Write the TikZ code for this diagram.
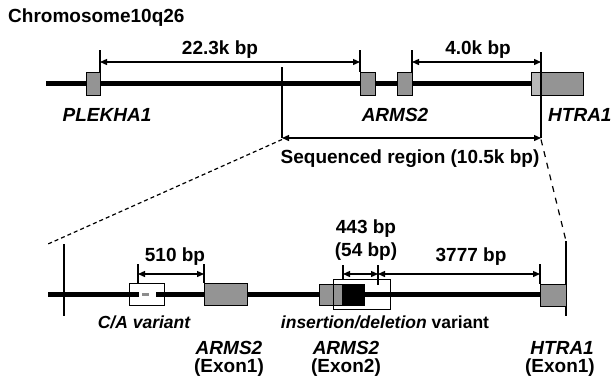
\documentclass[tikz,border=0pt]{standalone}
\usepackage{fontspec}
\setmainfont{Liberation Sans}
\usetikzlibrary{arrows.meta}
\begin{document}
\begin{tikzpicture}[x=1pt,y=-1pt,
  lbl/.style={font=\fontsize{19pt}{22pt}\selectfont\bfseries, inner sep=0pt, anchor=base},
  gene/.style={lbl, font=\fontsize{19pt}{22pt}\selectfont\bfseries\itshape},
  varlbl/.style={lbl, font=\fontsize{17.5pt}{20pt}\selectfont\bfseries},
  exon/.style={draw=black, line width=0.9pt, fill=black!42, inner sep=0pt, outer sep=0pt},
  lightexon/.style={exon, fill=black!28},
  openbox/.style={draw=black, line width=1pt, inner sep=0pt, outer sep=0pt},
  tickline/.style={line width=1.2pt},
  dimarrow/.style={line width=1.3pt, {Triangle[length=7pt,width=6pt]}-{Triangle[length=7pt,width=6pt]}},
  chrom/.style={line width=4.5pt},
  zoomline/.style={line width=1.2pt, dash pattern=on 4pt off 3pt},
  zoomlineb/.style={line width=1.2pt, dash pattern=on 6pt off 6pt}
]
\useasboundingbox (0,0) rectangle (612,381);

% ---------- title ----------
\node[lbl, anchor=base west] (title) at (8,22.5) {Chromosome10q26};

% ---------- upper chromosome ----------
\coordinate (tl) at (46,83.5);
\coordinate (tr) at (531,83.5);
\draw[chrom] (tl) -- (tr);

\node[exon, minimum width=14pt, minimum height=23pt] (plek) at (93,83.5) {};
\node[exon, minimum width=15pt, minimum height=23pt] (armsa) at (367.5,83.5) {};
\node[exon, minimum width=15pt, minimum height=23pt] (armsb) at (404.5,83.5) {};
\node[lightexon, minimum width=10pt, minimum height=23pt] (htral) at (536,84) {};
\node[exon, minimum width=42pt, minimum height=23pt] (htrad) at (562,84) {};

% ticks
\coordinate (k1) at (100,50);
\coordinate (k2) at (360,50);
\coordinate (k3) at (412,50);
\coordinate (k4t) at (541,52);
\coordinate (k4b) at (541,138);
\coordinate (k5t) at (282,67);
\coordinate (k5b) at (282,138);
\draw[tickline] (k1) -- (plek.north east);
\draw[tickline] (k2) -- (armsa.north west);
\draw[tickline] (k3) -- (armsb.north east);
\draw[tickline] (k4t) -- (k4b);
\draw[tickline] (k5t) -- (k5b);

% dimension arrows
\coordinate (d1a) at (100,62);
\coordinate (d1b) at (360,62);
\coordinate (d2a) at (412,62);
\coordinate (d2b) at (541,62);
\draw[dimarrow] (d1a) -- (d1b);
\draw[dimarrow] (d2a) -- (d2b);
\draw[dimarrow] (k5b) -- (k4b);

\node[lbl] (l223) at (220,54) {22.3k bp};
\node[lbl] (l40) at (478,54) {4.0k bp};
\node[gene] (gplek) at (107,121) {PLEKHA1};
\node[gene] (garms) at (395,121) {ARMS2};
\node[gene, anchor=base west] (ghtra) at (548,121) {HTRA1};
\node[lbl] (lseq) at (410,163.5) {Sequenced region (10.5k bp)};

% ---------- zoom lines ----------
\coordinate (zl0) at (282,139.5);
\coordinate (zl1) at (48,244);
\coordinate (zr0) at (541,139.5);
\coordinate (zr1) at (566,241);
\draw[zoomline] (zl0) -- (zl1);
\draw[zoomlineb] (zr0) -- (zr1);

% ---------- lower detail ----------
\coordinate (bl) at (48,294.5);
\coordinate (br) at (540,294.5);
\draw[chrom, line width=4.2pt] (bl) -- (br);

\coordinate (lv1) at (64,244);
\coordinate (lv2) at (64,316);
\draw[tickline] (lv1) -- (lv2);
\coordinate (rv2) at (566,316);
\draw[tickline] (zr1) -- (rv2);

% C/A variant box
\node[openbox, fill=white, minimum width=35pt, minimum height=22pt] (cabox) at (146.5,294.5) {};
\coordinate (ca1) at (129,294.5);
\coordinate (ca2) at (139,294.5);
\coordinate (ca3) at (142,294.5);
\coordinate (ca4) at (149,294.5);
\coordinate (ca5) at (156,294.5);
\coordinate (ca6) at (164,294.5);
\draw[line width=4.2pt] (ca1) -- (ca2);
\draw[line width=2.5pt, black!45] (ca3) -- (ca4);
\draw[line width=4.2pt] (ca5) -- (ca6);

% exons
\node[exon, minimum width=43pt, minimum height=22pt] (ex1) at (225.5,294) {};
\node[exon, minimum width=23pt, minimum height=21pt] (ex2g) at (330.5,294.5) {};
\node[exon, fill=black, minimum width=22pt, minimum height=21pt] (ex2k) at (353,294.5) {};
\node[openbox, minimum width=57pt, minimum height=30pt] (indel) at (361.5,294) {};
\node[exon, minimum width=26pt, minimum height=22pt] (hx1) at (553,295) {};

% lower ticks
\coordinate (m1) at (138,264);
\coordinate (m1b) at (138,283.5);
\coordinate (m2) at (204,264);
\coordinate (m3) at (343,265);
\coordinate (m4) at (378,265);
\coordinate (m4b) at (378,285);
\coordinate (m5) at (540,264);
\draw[tickline] (m1) -- (m1b);
\draw[tickline] (m2) -- (ex1.north west);
\draw[tickline] (m3) -- (m3 |- indel.north);
\draw[tickline] (m4) -- (m4b);
\draw[tickline] (m5) -- (hx1.north west);

% lower dimension arrows
\coordinate (e1a) at (138,274);
\coordinate (e1b) at (204,274);
\coordinate (e2a) at (343,274);
\coordinate (e2b) at (378,274);
\coordinate (e3b) at (540,274);
\draw[dimarrow] (e1a) -- (e1b);
\draw[dimarrow] (e2a) -- (e2b);
\draw[dimarrow] (e2b) -- (e3b);

\node[lbl] (l510) at (175,261) {510 bp};
\node[lbl] (l443) at (366,233) {443 bp};
\node[lbl] (l54) at (366,256.5) {(54 bp)};
\node[lbl] (l3777) at (471,261) {3777 bp};

\node[varlbl, font=\fontsize{17.5pt}{20pt}\selectfont\bfseries\itshape] (lca) at (144,328.5) {C/A variant};
\node[varlbl] (lindel) at (385,328.5) {\itshape insertion/deletion\upshape\ variant};

\node[gene] (ga1) at (229,354) {ARMS2};
\node[lbl] (ge1) at (229,372) {(Exon1)};
\node[gene] (ga2) at (346,354) {ARMS2};
\node[lbl] (ge2) at (346,372) {(Exon2)};
\node[gene, anchor=base east] (gh1) at (594,354) {HTRA1};
\node[lbl, anchor=base east] (gh2) at (595,372) {(Exon1)};
\end{tikzpicture}
\end{document}
